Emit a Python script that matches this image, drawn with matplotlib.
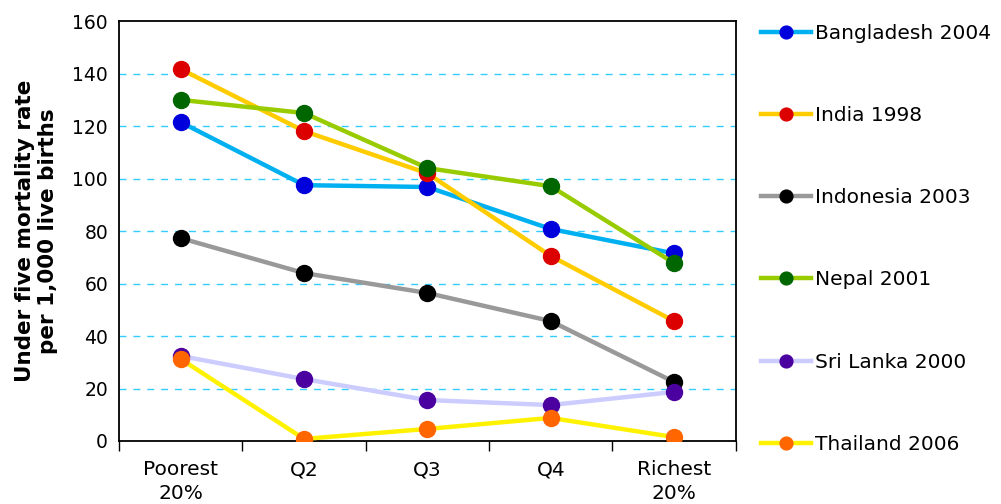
import numpy as np
import matplotlib.pyplot as plt

quintiles = ['Poorest\n20%', 'Q2', 'Q3', 'Q4', 'Richest\n20%']

bangladesh = [121.5, 97.5, 96.8, 80.8, 71.5]
india = [141.7, 118.1, 102.0, 70.5, 45.7]
indonesia = [77.3, 64.0, 56.4, 45.7, 22.5]
nepal = [130.0, 125.0, 104.0, 97.1, 67.8]
sri_lanka = [32.4, 23.6, 15.6, 13.7, 18.7]
thailand = [31.2, 0.8, 4.6, 8.8, 1.5]

labels = ['Bangladesh 2004', 'India 1998', 'Indonesia 2003',
          'Nepal 2001', 'Sri Lanka 2000', 'Thailand 2006']
line_colors = ['#00B0F0', '#FFCC00', '#999999', '#99CC00', '#CCCCFF', '#FFF200']
marker_colors = ['#0000DD', '#DD0000', '#000000', '#006600', '#4B00A0', '#FF6600']

plt.rcParams['font.family'] = 'DejaVu Sans'
fig = plt.figure(figsize=(10.01, 5.04), dpi=100)
ax = fig.add_axes([0.119, 0.125, 0.616, 0.833])

x = np.arange(len(quintiles))
series = [bangladesh, india, indonesia, nepal, sri_lanka, thailand]
for vals, lab, lc, mc in zip(series, labels, line_colors, marker_colors):
    ax.plot(x, vals, color=lc, lw=3.2, marker='o', ms=11.5,
            markerfacecolor=mc, markeredgecolor=mc, label=lab, zorder=3)

ax.set_xlim(-0.5, 4.5)
ax.set_ylim(0, 160)
ax.set_yticks(np.arange(0, 161, 20))
ax.set_xticks(x)
ax.set_xticklabels(quintiles, fontsize=14.5, linespacing=1.3)
ax.set_xticks(np.arange(-0.5, 4.6, 1), minor=True)
ax.tick_params(axis='x', which='major', length=0, pad=14)
ax.tick_params(axis='x', which='minor', length=7, width=1, direction='out')
ax.tick_params(axis='y', length=0, labelsize=13.5, pad=8)

# dashed horizontal guides, none on the top border
for yv in range(20, 160, 20):
    ax.axhline(yv, color='#33CCFF', lw=1, ls=(0, (5, 5)), zorder=1)

for s in ax.spines.values():
    s.set_linewidth(1.3)

ax.set_ylabel('Under five mortality rate\nper 1,000 live births',
              fontsize=15.5, fontweight='bold', labelpad=10)

leg = ax.legend(loc='upper left', bbox_to_anchor=(0.752, 0.969),
                bbox_transform=fig.transFigure, frameon=False, fontsize=14.5,
                handlelength=2.5, handletextpad=0.2, labelspacing=3.14,
                borderaxespad=0, markerscale=0.8)

fig.savefig('out.png', dpi=100)
